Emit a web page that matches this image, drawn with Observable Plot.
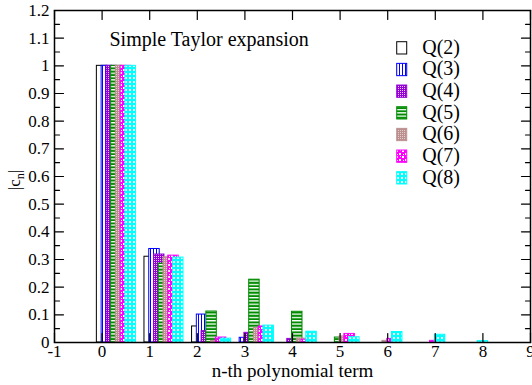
<!DOCTYPE html>
<html><head><meta charset="utf-8">
<script src="https://cdn.jsdelivr.net/npm/d3@7"></script>
<script src="https://cdn.jsdelivr.net/npm/@observablehq/plot@0.6"></script>
<style>body{margin:0;background:#fff} svg{display:block} svg text{font-family:'Liberation Serif','Times New Roman',serif}</style>
</head><body><div id="chart"></div>
<script>
// ---- data ----
const series = ["Q(2)","Q(3)","Q(4)","Q(5)","Q(6)","Q(7)","Q(8)"];
const orders = [2,3,4,5,6,7,8];
const colors = ["#000000","#0000ff","#9400d3","#008b00","#bc8f8f","#ff00ff","#00ffff"];
const q2 = [1, 0.310, 0.058];
const q3 = [1, 0.338, 0.101, 0.017];
const q4 = [1, 0.318, 0.041, 0.035, 0.013];
const q5 = [1, 0.285, 0.112, 0.227, 0.111, 0.018];
const q6 = [1, 0.308, 0.006, 0.053, 0.014, 0.022, 0.006];
const q7 = [1, 0.314, 0.018, 0.058, 0.010, 0.031, 0.013, 0.006];
const q8 = [1, 0.307, 0.014, 0.061, 0.039, 0.019, 0.038, 0.028, 0.005];
const values = [q2,q3,q4,q5,q6,q7,q8];
const xTicks = [-1,0,1,2,3,4,5,6,7,8,9];
const yTicks = [0,0.1,0.2,0.3,0.4,0.5,0.6,0.7,0.8,0.9,1,1.1,1.2];
const title = "Simple Taylor expansion";
const xLabel = "n-th polynomial term";

// ---- build table ----
const bars = [];
values.forEach((vals, si) => {
  const k = orders[si];
  vals.forEach((v, n) => {
    bars.push({k, si, n, v, slot: k - Math.max(n, 2)});
  });
});
const yMinor = yTicks.slice(0, -1).map((t, i) => (t + yTicks[i+1]) / 2);
const step = 0.1, half = 0.11;

const tickShape = {draw(c, l) { c.moveTo(0, 0); c.lineTo(0, -l); }};
const tk = (data, o) => Plot.vector(data, {anchor: "start", shape: tickShape, stroke: "black", strokeWidth: 1.2, ...o});

const font = "'Liberation Serif', 'Times New Roman', serif";

const chart = Plot.plot({
  width: 532, height: 385,
  marginLeft: 54, marginRight: 2, marginTop: 10, marginBottom: 43,
  x: {domain: [-1, 9], label: null},
  y: {domain: [0, 1.2], label: null},
  color: {type: "identity"},
  style: {fontFamily: font, fontSize: "16px", color: "black", background: "white", overflow: "visible"},
  marks: [
    Plot.rect(bars, {
      x1: d => d.n + step * d.slot - half,
      x2: d => d.n + step * d.slot + half,
      y1: 0, y2: "v",
      fill: d => `url(#pat${d.k})`,
      stroke: d => colors[d.si], strokeWidth: 1
    }),
    Plot.frame({stroke: "black", strokeWidth: 1.5}),
    tk(yTicks, {y: d => d, frameAnchor: "left", rotate: 90, length: 9}),
    tk(yMinor, {y: d => d, frameAnchor: "left", rotate: 90, length: 5}),
    tk(yTicks, {y: d => d, frameAnchor: "right", rotate: -90, length: 9}),
    tk(yMinor, {y: d => d, frameAnchor: "right", rotate: -90, length: 5}),
    tk(xTicks, {x: d => d, frameAnchor: "bottom", rotate: 0, length: 9}),
    tk(xTicks, {x: d => d, frameAnchor: "top", rotate: 180, length: 9}),
    Plot.axisY(yTicks, {tickSize: 0, tickPadding: 5, tickFormat: d => String(d), fontSize: 17, fontFamily: font}),
    Plot.axisX(xTicks, {tickSize: 0, tickPadding: 2, tickFormat: d => String(d), fontSize: 17, fontFamily: font}),
    Plot.text([xLabel], {frameAnchor: "bottom", dy: 28, lineAnchor: "middle", fontSize: 19, fontFamily: font}),
    Plot.text([title], {x: 0.155, y: 1.095, textAnchor: "start", fontSize: 20, fontFamily: font}),
    Plot.rect(series, {
      x1: 6.2, x2: 6.41,
      y1: (d, i) => 1.0854 - i * 0.0783,
      y2: (d, i) => 1.041 - i * 0.0783,
      fill: (d, i) => `url(#pat${orders[i]})`,
      stroke: (d, i) => colors[i], strokeWidth: 1
    }),
    Plot.text(series, {x: 6.725, y: (d, i) => 1.0674 - i * 0.0783, text: d => d, textAnchor: "start", fontSize: 20, fontFamily: font})
  ]
});

// ---- fill patterns ----
const svg = d3.select(chart);
const defs = svg.insert("defs", ":first-child");
function pat(id, w, h, bg, rects) {
  const p = defs.append("pattern").attr("id", id).attr("patternUnits", "userSpaceOnUse")
    .attr("width", w).attr("height", h);
  p.append("rect").attr("width", w).attr("height", h).attr("fill", bg);
  rects.forEach(([x, y, rw, rh, c]) => p.append("rect").attr("x", x).attr("y", y)
    .attr("width", rw).attr("height", rh).attr("fill", c));
}
pat("pat2", 4, 4, "#ffffff", []);
pat("pat3", 3, 3, "#ffffff", [[0, 0, 1, 3, "#0000ff"]]);
pat("pat4", 2, 2, "#9400d3", [[0, 0, 1, 1, "#e6c8f5"]]);
pat("pat5", 4, 3.3, "#008b00", [[0, 0, 4, 1.3, "#ffffff"]]);
pat("pat6", 2, 2, "#bc8f8f", [[0, 0, 1, 1, "#e3cccc"]]);
pat("pat7", 6, 6, "#ff00ff", [[0, 0, 2, 2, "#ffffff"], [3, 3, 2, 2, "#ffffff"], [4, 0, 1, 1, "#ffffff"], [1, 4, 1, 1, "#ffffff"]]);
pat("pat8", 4, 4, "#00ffff", [[1, 1, 2, 2, "#ffffff"]]);

// ---- y-axis label with subscript ----
const yl = svg.append("text")
  .attr("transform", "translate(20,180) rotate(-90)")
  .attr("text-anchor", "middle")
  .attr("font-family", font).attr("font-size", 17).attr("fill", "black");
yl.append("tspan").text("|c");
yl.append("tspan").attr("font-size", 12).attr("dy", 4).text("n");
yl.append("tspan").attr("dy", -4).text("|");

document.getElementById("chart").appendChild(chart);
</script>
</body></html>
